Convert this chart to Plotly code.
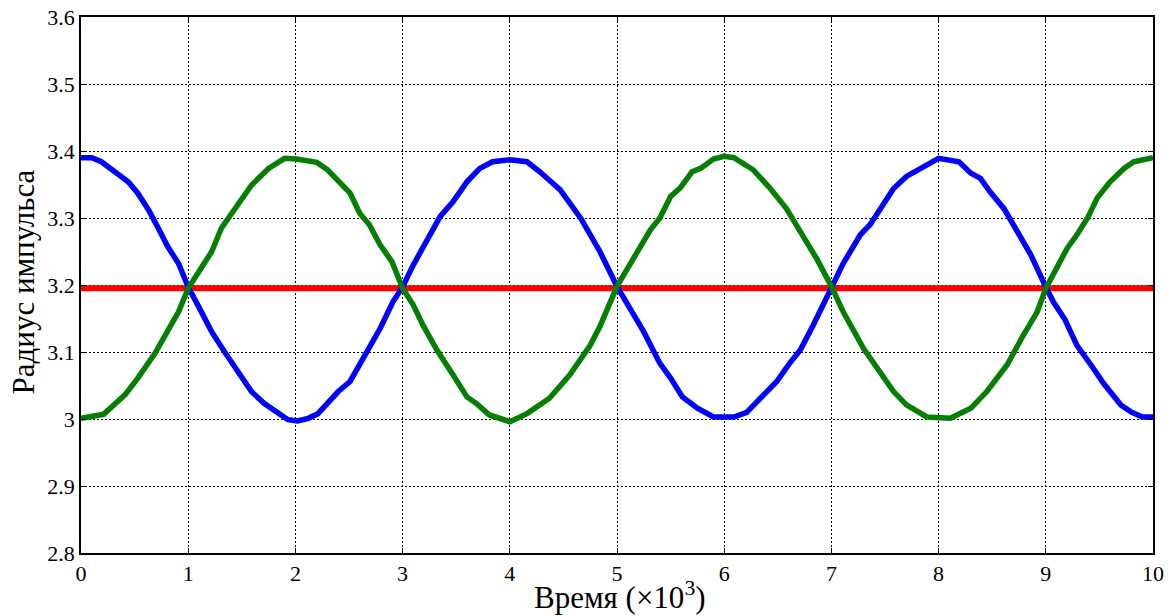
import plotly.graph_objects as go

# Time axis (x10^3) and pulse radius for the two oscillating modes
blue_t = [0, 0.1, 0.19, 0.29, 0.38, 0.44, 0.53, 0.63, 0.72, 0.81, 0.91, 1.0, 1.09, 1.22, 1.34,
          1.5, 1.59, 1.71, 1.84, 1.93, 2.02, 2.12, 2.21, 2.30, 2.40, 2.51, 2.63, 2.79, 2.91, 3.0,
          3.10, 3.22, 3.35, 3.47, 3.60, 3.72, 3.84, 4.0, 4.16, 4.28, 4.47, 4.66, 4.84, 5.0, 5.12,
          5.25, 5.40, 5.50, 5.61, 5.75, 5.90, 6.09, 6.21, 6.34, 6.49, 6.61, 6.71, 6.83, 7.0, 7.11,
          7.27, 7.36, 7.45, 7.58, 7.70, 7.83, 8.0, 8.19, 8.30, 8.39, 8.48, 8.61, 8.73, 8.86, 9.0,
          9.07, 9.18, 9.29, 9.42, 9.54, 9.70, 9.79, 9.90, 10.0]
blue_r = [3.390, 3.390, 3.384, 3.372, 3.362, 3.354, 3.337, 3.312, 3.285, 3.257, 3.232, 3.197, 3.170, 3.130, 3.100,
          3.061, 3.041, 3.023, 3.008, 2.999, 2.997, 3.001, 3.008, 3.023, 3.041, 3.056, 3.091, 3.135, 3.175, 3.197,
          3.230, 3.265, 3.302, 3.324, 3.354, 3.374, 3.384, 3.387, 3.384, 3.369, 3.342, 3.300, 3.250, 3.198, 3.165,
          3.130, 3.083, 3.061, 3.033, 3.016, 3.003, 3.003, 3.010, 3.031, 3.056, 3.083, 3.103, 3.140, 3.195, 3.232,
          3.275, 3.290, 3.312, 3.344, 3.362, 3.374, 3.389, 3.384, 3.367, 3.359, 3.339, 3.314, 3.280, 3.245, 3.197,
          3.175, 3.148, 3.110, 3.081, 3.053, 3.021, 3.011, 3.003, 3.003]

green_t = [0, 0.21, 0.41, 0.53, 0.69, 0.81, 0.91, 1.0, 1.12, 1.22, 1.31, 1.43, 1.59, 1.75, 1.90,
           2.01, 2.12, 2.2, 2.3, 2.4, 2.51, 2.6, 2.69, 2.79, 2.90, 3.0, 3.10, 3.19, 3.32, 3.47,
           3.60, 3.69, 3.81, 4.0, 4.16, 4.37, 4.56, 4.75, 4.84, 5.0, 5.16, 5.31, 5.40, 5.50, 5.59,
           5.70, 5.78, 5.90, 6.0, 6.09, 6.27, 6.43, 6.58, 6.71, 6.86, 7.0, 7.11, 7.30, 7.36, 7.49,
           7.58, 7.70, 7.89, 8.11, 8.30, 8.45, 8.64, 8.79, 8.92, 9.0, 9.10, 9.20, 9.29, 9.39, 9.48,
           9.60, 9.73, 9.82, 10.0]
green_r = [3.001, 3.007, 3.036, 3.061, 3.098, 3.130, 3.160, 3.195, 3.225, 3.250, 3.285, 3.314, 3.349, 3.374, 3.389,
           3.388, 3.385, 3.383, 3.372, 3.354, 3.337, 3.307, 3.290, 3.260, 3.235, 3.195, 3.170, 3.140, 3.103, 3.066,
           3.033, 3.023, 3.006, 2.996, 3.008, 3.031, 3.066, 3.110, 3.138, 3.198, 3.240, 3.282, 3.300, 3.332, 3.345,
           3.369, 3.374, 3.388, 3.392, 3.390, 3.372, 3.344, 3.314, 3.280, 3.240, 3.198, 3.160, 3.105, 3.091, 3.061,
           3.041, 3.021, 3.003, 3.001, 3.016, 3.041, 3.081, 3.125, 3.160, 3.195, 3.225, 3.255, 3.275, 3.300, 3.330,
           3.354, 3.374, 3.384, 3.390]

# Mean radius level
mean_t = [0, 10]
mean_r = [3.195, 3.195]

x_ticks = list(range(0, 11))
y_ticks = [2.8, 2.9, 3.0, 3.1, 3.2, 3.3, 3.4, 3.5, 3.6]
y_labels = ["2.8", "2.9", "3", "3.1", "3.2", "3.3", "3.4", "3.5", "3.6"]

x_title = "Время (×10<sup>3</sup>)"
y_title = "Радиус импульса"

fig = go.Figure()
fig.add_trace(go.Scatter(x=mean_t, y=mean_r, mode="lines",
                         line=dict(color="#ff0000", width=6), showlegend=False))
fig.add_trace(go.Scatter(x=blue_t, y=blue_r, mode="lines",
                         line=dict(color="#0000ff", width=5.5), showlegend=False))
fig.add_trace(go.Scatter(x=green_t, y=green_r, mode="lines",
                         line=dict(color="#047f04", width=5.5), showlegend=False))

serif = "Liberation Serif"
axis_common = dict(
    showline=True, linecolor="black", linewidth=1.5, mirror="ticks",
    ticks="inside", ticklen=5, tickcolor="black", tickwidth=1,
    showgrid=True, gridcolor="black", gridwidth=1.3, griddash="2px,2px",
    zeroline=False, automargin=False,
    tickfont=dict(family=serif, size=22, color="black"),
)

fig.update_xaxes(range=[0, 10], tickvals=x_ticks, ticktext=[str(v) for v in x_ticks], **axis_common)
fig.update_yaxes(range=[2.8, 3.6], tickvals=y_ticks, ticktext=y_labels, **axis_common)

# Axis titles placed as paper-anchored annotations
fig.add_annotation(text=x_title, xref="paper", yref="paper", x=0.5028, y=-0.1185,
                   xanchor="center", yanchor="bottom", showarrow=False,
                   font=dict(family=serif, size=31, color="black"))
fig.add_annotation(text=y_title, xref="paper", yref="paper", x=-0.0541, y=0.5047,
                   xanchor="center", yanchor="middle", textangle=-90, showarrow=False,
                   font=dict(family=serif, size=31, color="black"))

fig.update_layout(
    width=1173, height=616,
    margin=dict(l=81, r=20, t=17, b=63),
    paper_bgcolor="white", plot_bgcolor="white",
    font=dict(family=serif, color="black"),
)

fig.write_html("out.html")
